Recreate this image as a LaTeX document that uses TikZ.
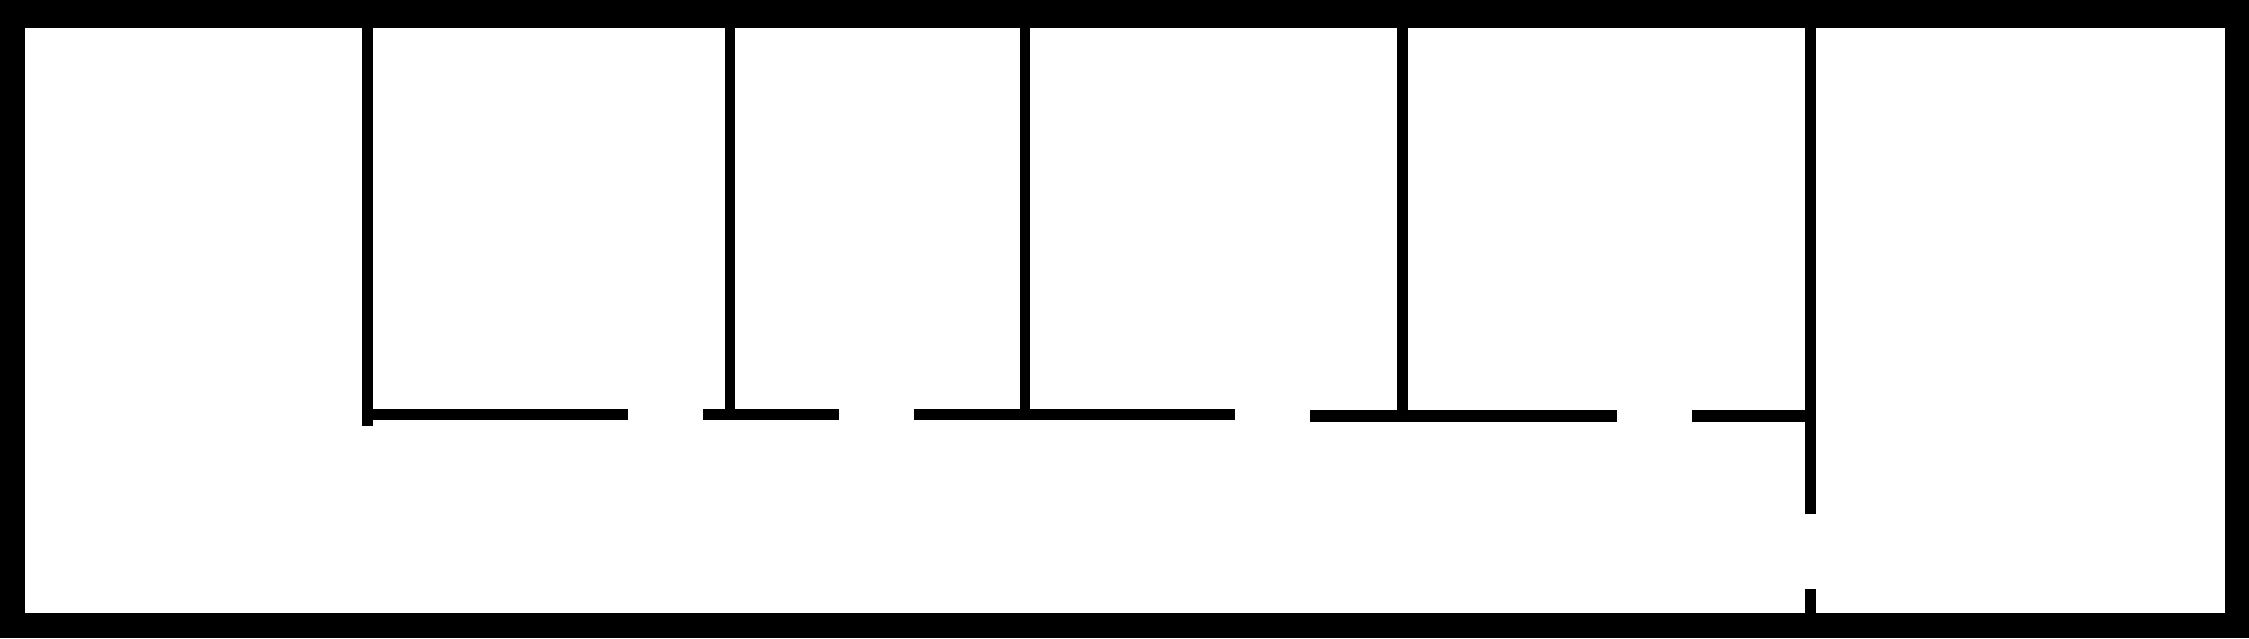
\documentclass[tikz,border=0pt]{standalone}
\begin{document}
\begin{tikzpicture}[x=0.01cm,y=-0.01cm,
  iwall/.style={line width=0.108cm,line cap=butt,black},
  hwall/.style={line width=0.115cm,line cap=butt,black}]
\useasboundingbox (0,0) rectangle (2249,638);
% outer walls
\fill[black] (0,0) rectangle (2249,638);
\fill[white] (25,28) rectangle (2225,613);
% vertical interior walls
\draw[iwall] (367.5,28) -- (367.5,425.5);
\draw[iwall] (730,28) -- (730,414);
\draw[iwall] (1025,28) -- (1025,414);
\draw[iwall] (1402.5,28) -- (1402.5,416);
\draw[iwall] (1810.5,28) -- (1810.5,514);
\draw[iwall] (1810.5,589) -- (1810.5,613);
% horizontal corridor wall with door gaps
\draw[hwall] (362,414.5) -- (628,414.5);
\draw[hwall] (703,414.5) -- (839,414.5);
\draw[hwall] (914,414.5) -- (1235,414.5);
\draw[hwall] (1310,416) -- (1617,416);
\draw[hwall] (1692,416) -- (1816,416);
\end{tikzpicture}
\end{document}
